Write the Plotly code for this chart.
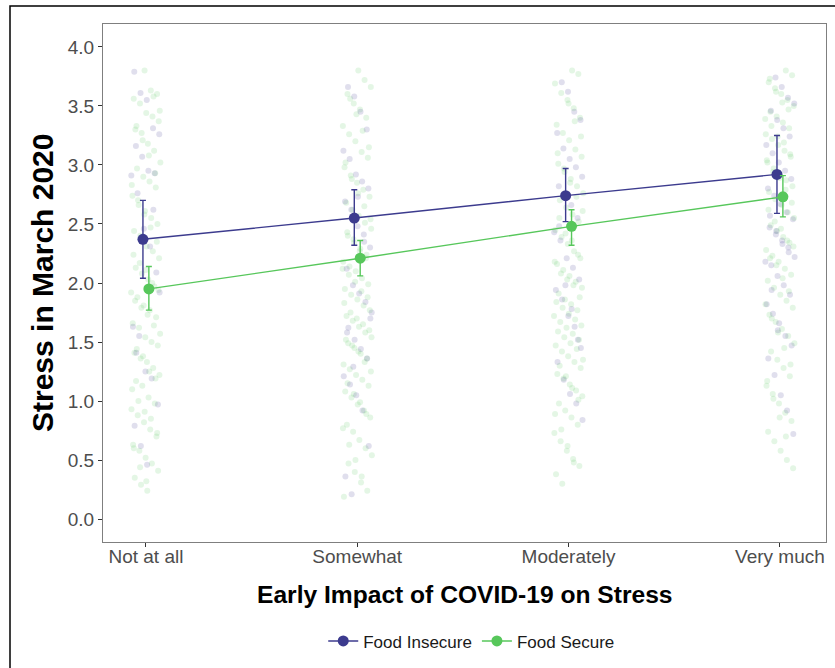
import plotly.graph_objects as go

categories = ["Not at all", "Somewhat", "Moderately", "Very much"]
y_ticks = [0.0, 0.5, 1.0, 1.5, 2.0, 2.5, 3.0, 3.5, 4.0]

# Group means and 95% CI bounds
insecure_mean = [2.37, 2.55, 2.74, 2.92]
insecure_low = [2.04, 2.32, 2.52, 2.59]
insecure_high = [2.70, 2.79, 2.97, 3.25]
secure_mean = [1.95, 2.21, 2.48, 2.73]
secure_low = [1.77, 2.06, 2.32, 2.56]
secure_high = [2.14, 2.36, 2.62, 2.91]

secure_pts_0 = [3.80, 3.63, 3.60, 3.56, 3.52, 3.44, 3.41, 3.37, 3.30, 3.27, 3.18, 3.12, 3.02, 2.97,
                2.90, 2.86, 2.81, 2.74, 2.66, 2.61, 2.55, 2.50, 2.44, 2.40, 2.31, 2.27, 2.21, 2.13,
                2.08, 2.03, 1.97, 1.92, 1.88, 1.81, 1.77, 1.71, 1.66, 1.62, 1.54, 1.50, 1.47, 1.41,
                1.36, 1.33, 1.28, 1.22, 1.17, 1.13, 1.03, 0.98, 0.93, 0.88, 0.82, 0.76, 0.70, 0.63,
                0.58, 0.52, 0.47, 0.41, 0.35, 0.29, 0.24,
                3.58, 3.46, 3.33, 3.21, 3.08, 2.93, 2.83, 2.70, 2.58, 2.47, 2.35, 2.24, 2.17, 2.11,
                2.00, 1.94, 1.85, 1.79, 1.73, 1.64, 1.57, 1.44, 1.38, 1.25, 1.19, 1.10, 1.00, 0.91,
                0.85, 0.73, 0.60, 0.44, 0.32]
insecure_pts_0 = [3.79, 3.61, 3.55, 3.31, 3.26, 3.16, 3.07, 2.95, 2.93, 2.91, 2.76, 2.46, 2.31, 2.09,
                  1.63, 1.55, 1.25, 1.19, 0.97, 0.79, 0.62, 0.46, 2.62, 1.92, 1.41]
secure_pts_1 = [3.80, 3.72, 3.66, 3.60, 3.52, 3.47, 3.40, 3.33, 3.26, 3.20, 3.11, 3.06, 2.98, 2.91,
                2.85, 2.79, 2.73, 2.68, 2.62, 2.57, 2.51, 2.46, 2.40, 2.34, 2.29, 2.24, 2.18, 2.14,
                2.10, 2.04, 1.99, 1.95, 1.90, 1.86, 1.81, 1.77, 1.72, 1.68, 1.63, 1.58, 1.54, 1.49,
                1.45, 1.40, 1.36, 1.31, 1.27, 1.22, 1.18, 1.13, 1.08, 1.03, 0.97, 0.92, 0.86, 0.80,
                0.74, 0.67, 0.60, 0.54, 0.47, 0.40, 0.31, 0.24, 0.19,
                3.56, 3.43, 3.29, 3.15, 3.02, 2.88, 2.76, 2.65, 2.54, 2.43, 2.37, 2.27, 2.21, 2.12,
                2.07, 2.01, 1.93, 1.88, 1.83, 1.75, 1.70, 1.65, 1.60, 1.52, 1.47, 1.42, 1.33, 1.25,
                1.15, 1.06, 0.99, 0.89, 0.77, 0.63, 0.50, 0.36]
insecure_pts_1 = [3.66, 3.58, 3.45, 3.30, 3.12, 3.05, 2.92, 2.86, 2.80, 2.69, 2.62, 2.48, 2.41, 2.30,
                  2.12, 1.98, 1.91, 1.84, 1.75, 1.62, 1.52, 1.44, 1.36, 1.21, 1.14, 1.05, 0.92, 0.62,
                  0.36, 0.21, 2.73, 2.35, 1.70, 1.58, 1.29]
secure_pts_2 = [3.80, 3.77, 3.69, 3.61, 3.55, 3.48, 3.40, 3.34, 3.27, 3.21, 3.13, 3.07, 3.01, 2.94,
                2.88, 2.82, 2.76, 2.70, 2.64, 2.58, 2.52, 2.45, 2.39, 2.33, 2.27, 2.21, 2.16, 2.11,
                2.06, 2.01, 1.96, 1.91, 1.86, 1.82, 1.77, 1.72, 1.67, 1.62, 1.57, 1.52, 1.47, 1.42,
                1.38, 1.33, 1.28, 1.23, 1.19, 1.14, 1.09, 1.04, 0.98, 0.92, 0.86, 0.80, 0.73, 0.66,
                0.58, 0.51, 0.45, 0.38, 0.30,
                3.52, 3.37, 3.24, 3.10, 2.97, 2.85, 2.73, 2.61, 2.55, 2.42, 2.36, 2.24, 2.18, 2.08,
                2.03, 1.98, 1.88, 1.84, 1.79, 1.74, 1.69, 1.64, 1.59, 1.54, 1.49, 1.44, 1.35, 1.30,
                1.21, 1.11, 1.01, 0.89, 0.76, 0.62, 0.48]
insecure_pts_2 = [3.70, 3.62, 3.45, 3.38, 3.27, 3.14, 3.05, 2.98, 2.90, 2.82, 2.74, 2.66, 2.55, 2.43,
                  2.36, 2.21, 2.13, 2.03, 1.94, 1.86, 1.72, 1.63, 1.45, 1.33, 1.18, 1.06, 0.98, 0.84,
                  2.48, 1.98, 1.78, 1.52]
secure_pts_3 = [3.80, 3.76, 3.70, 3.65, 3.60, 3.55, 3.50, 3.45, 3.41, 3.36, 3.31, 3.26, 3.22, 3.17,
                3.12, 3.07, 3.02, 2.97, 2.92, 2.87, 2.82, 2.77, 2.71, 2.66, 2.60, 2.55, 2.49, 2.44,
                2.39, 2.34, 2.28, 2.23, 2.18, 2.12, 2.07, 2.02, 1.96, 1.90, 1.85, 1.79, 1.73, 1.67,
                1.61, 1.55, 1.49, 1.42, 1.35, 1.28, 1.21, 1.13, 1.06, 0.98, 0.90, 0.83, 0.74, 0.66,
                0.58, 0.50, 0.43,
                3.73, 3.62, 3.53, 3.47, 3.39, 3.33, 3.24, 3.19, 3.09, 3.04, 2.94, 2.89, 2.79, 2.68,
                2.62, 2.52, 2.46, 2.36, 2.31, 2.21, 2.15, 2.04, 1.93, 1.82, 1.70, 1.58, 1.45, 1.31,
                1.17, 1.02, 0.86, 0.70]
insecure_pts_3 = [3.74, 3.66, 3.57, 3.52, 3.46, 3.38, 3.31, 3.24, 3.17, 3.10, 3.02, 2.95, 2.88, 2.80,
                  2.74, 2.67, 2.60, 2.54, 2.47, 2.41, 2.36, 2.30, 2.22, 2.15, 2.06, 1.98, 1.90, 1.82,
                  1.74, 1.66, 1.55, 1.47, 1.36, 1.22, 1.05, 0.92, 0.72,
                  2.57, 2.44, 2.33, 2.26, 2.18, 1.94, 1.60]

secure_pts = [secure_pts_0, secure_pts_1, secure_pts_2, secure_pts_3]
insecure_pts = [insecure_pts_0, insecure_pts_1, insecure_pts_2, insecure_pts_3]

BLUE = "#3C3B8E"
GREEN = "#57C75B"
DODGE = 0.014
JIT = 0.07


def jitter(n, seed):
    # deterministic scrambled spread for jitter positions
    return [((((i + 1) * 7919 + seed * 104729) * 2654435761 % 4294967296) / 4294967296 - 0.5) * 2 * JIT
            for i in range(n)]


fig = go.Figure()

for ci in range(len(categories)):
    for pts, col, seed in ((secure_pts[ci], GREEN, 3 + ci), (insecure_pts[ci], BLUE, 11 + ci)):
        offs = jitter(len(pts), seed)
        fig.add_trace(go.Scatter(
            x=[ci + o for o in offs], y=pts, mode="markers",
            marker=dict(size=6, color=col, opacity=0.16, line=dict(width=0)),
            showlegend=False, hoverinfo="skip"))

xs = list(range(len(categories)))
for name, mean, lo, hi, col, d in (
        ("Food Insecure", insecure_mean, insecure_low, insecure_high, BLUE, -DODGE),
        ("Food Secure", secure_mean, secure_low, secure_high, GREEN, DODGE)):
    fig.add_trace(go.Scatter(
        x=[x + d for x in xs], y=mean, mode="lines+markers", name=name,
        line=dict(color=col, width=1.4),
        marker=dict(size=11, color=col),
        error_y=dict(type="data", symmetric=False,
                     array=[h - m for h, m in zip(hi, mean)],
                     arrayminus=[m - l for m, l in zip(mean, lo)],
                     color=col, thickness=1.4, width=3)))

W, H = 835, 668
L, R, T, B = 103, 9, 24, 123
pw, ph = W - L - R, H - T - B

fig.update_layout(
    width=W, height=H,
    margin=dict(l=L, r=R, t=T, b=B),
    plot_bgcolor="white", paper_bgcolor="white",
    font=dict(family="Liberation Sans, Arial, sans-serif", color="#4D4D4D"),
    showlegend=True,
    legend=dict(orientation="h", x=0.51, xanchor="center",
                y=(545 - 645) / ph, yanchor="middle",
                font=dict(size=17, color="#1A1A1A"),
                bgcolor="rgba(0,0,0,0)", itemwidth=30),
    xaxis=dict(range=[-0.203, 3.218], tickvals=xs, ticktext=categories,
               showgrid=False, zeroline=False, showline=True, mirror=True,
               linecolor="#7F7F7F", linewidth=1, ticks="outside", ticklen=4,
               tickcolor="#333333", tickfont=dict(size=19, color="#4D4D4D"),
               ticklabelstandoff=-7),
    yaxis=dict(range=[-0.194, 4.194], tickvals=y_ticks,
               ticktext=[f"{v:.1f}" for v in y_ticks],
               showgrid=False, zeroline=False, showline=True, mirror=True,
               linecolor="#7F7F7F", linewidth=1, ticks="outside", ticklen=4,
               tickcolor="#333333", tickfont=dict(size=19, color="#4D4D4D")),
    annotations=[
        dict(text="<b>Early Impact of COVID-19 on Stress</b>", xref="paper", yref="paper",
             x=0.5, y=(545 - 598) / ph, xanchor="center", yanchor="middle",
             showarrow=False, font=dict(size=24.6, color="black")),
        dict(text="<b>Stress in March 2020</b>", xref="paper", yref="paper",
             x=(42 - L) / pw, y=0.5, xanchor="center", yanchor="middle", textangle=-90,
             showarrow=False, font=dict(size=30, color="black")),
    ],
    shapes=[dict(type="rect", xref="paper", yref="paper",
                 x0=(10 - L) / pw, x1=(W + 20 - L) / pw,
                 y0=-(H + 20 - T - ph) / ph, y1=1 + (T - 6) / ph,
                 line=dict(color="black", width=1.5), layer="above")],
)

fig.write_html("out.html", config={"displayModeBar": False},
               post_script="document.body.style.margin='0';document.body.style.padding='0';")
